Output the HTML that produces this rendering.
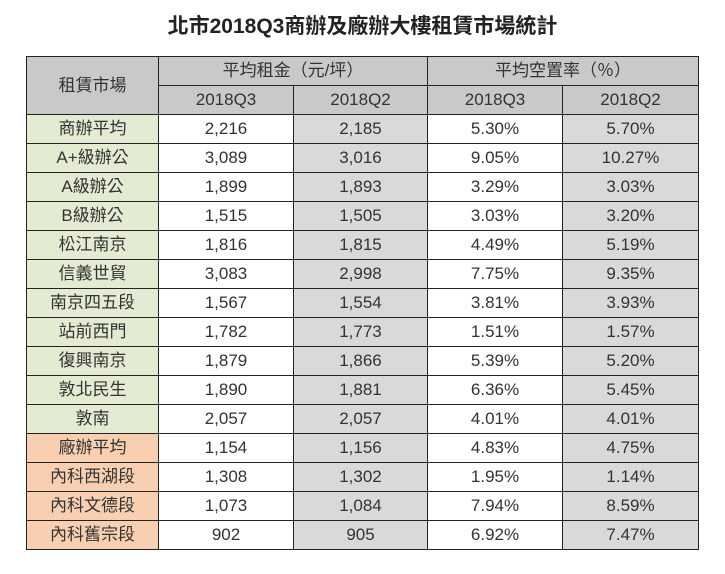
<!DOCTYPE html>
<html><head><meta charset="utf-8"><style>
body{margin:0;width:725px;height:574px;background:#fff;font-family:"Liberation Sans","Noto Sans CJK TC",sans-serif;color:#333;}
.t{position:absolute;top:10px;left:0;width:725px;text-align:center;font-size:21px;font-weight:bold;color:#222;}
table{position:absolute;left:26px;top:56px;border-collapse:collapse;}
td{border:1.5px solid #222;height:28px;padding:0;text-align:center;font-size:17px;line-height:28px;}
.h{background:#c9c9c9;}
.g{background:#e3ebd2;}
.o{background:#f8cfb1;}
.s{background:#d9d9d9;}
</style></head><body>
<div class="t">北市2018Q3商辦及廠辦大樓租賃市場統計</div>
<table>
<colgroup><col style="width:132px"><col style="width:135px"><col style="width:134px"><col style="width:135px"><col style="width:136px"></colgroup>
<tr><td class="h" rowspan="2">租賃市場</td><td class="h" colspan="2">平均租金（元/坪）</td><td class="h" colspan="2">平均空置率（％）</td></tr>
<tr><td class="h">2018Q3</td><td class="h">2018Q2</td><td class="h">2018Q3</td><td class="h">2018Q2</td></tr>
<tr><td class="g">商辦平均</td><td>2,216</td><td class="s">2,185</td><td>5.30%</td><td class="s">5.70%</td></tr>
<tr><td class="g">A+級辦公</td><td>3,089</td><td class="s">3,016</td><td>9.05%</td><td class="s">10.27%</td></tr>
<tr><td class="g">A級辦公</td><td>1,899</td><td class="s">1,893</td><td>3.29%</td><td class="s">3.03%</td></tr>
<tr><td class="g">B級辦公</td><td>1,515</td><td class="s">1,505</td><td>3.03%</td><td class="s">3.20%</td></tr>
<tr><td class="g">松江南京</td><td>1,816</td><td class="s">1,815</td><td>4.49%</td><td class="s">5.19%</td></tr>
<tr><td class="g">信義世貿</td><td>3,083</td><td class="s">2,998</td><td>7.75%</td><td class="s">9.35%</td></tr>
<tr><td class="g">南京四五段</td><td>1,567</td><td class="s">1,554</td><td>3.81%</td><td class="s">3.93%</td></tr>
<tr><td class="g">站前西門</td><td>1,782</td><td class="s">1,773</td><td>1.51%</td><td class="s">1.57%</td></tr>
<tr><td class="g">復興南京</td><td>1,879</td><td class="s">1,866</td><td>5.39%</td><td class="s">5.20%</td></tr>
<tr><td class="g">敦北民生</td><td>1,890</td><td class="s">1,881</td><td>6.36%</td><td class="s">5.45%</td></tr>
<tr><td class="g">敦南</td><td>2,057</td><td class="s">2,057</td><td>4.01%</td><td class="s">4.01%</td></tr>
<tr><td class="o">廠辦平均</td><td>1,154</td><td class="s">1,156</td><td>4.83%</td><td class="s">4.75%</td></tr>
<tr><td class="o">內科西湖段</td><td>1,308</td><td class="s">1,302</td><td>1.95%</td><td class="s">1.14%</td></tr>
<tr><td class="o">內科文德段</td><td>1,073</td><td class="s">1,084</td><td>7.94%</td><td class="s">8.59%</td></tr>
<tr><td class="o">內科舊宗段</td><td>902</td><td class="s">905</td><td>6.92%</td><td class="s">7.47%</td></tr>
</table>
</body></html>
